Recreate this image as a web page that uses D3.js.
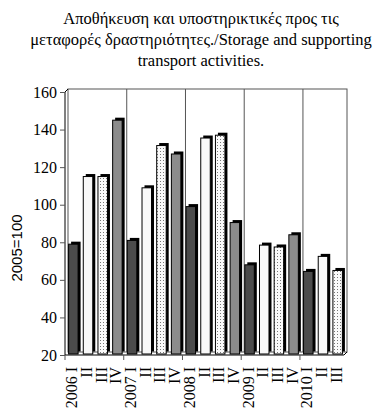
<!DOCTYPE html>
<html lang="el">
<head>
<meta charset="UTF-8">
<title>Storage and supporting transport activities</title>
<script src="https://d3js.org/d3.v7.min.js"></script>
<style>
  body { margin: 0; background: #fff; }
  svg { display: block; }
</style>
</head>
<body>
<svg id="chart" width="373" height="420"></svg>
<script>
// index 2005=100, quarterly
const years = ["2006", "2007", "2008", "2009", "2010"];
const quarters = ["I", "II", "III", "IV"];
const quarterCount = [4, 4, 4, 4, 3];
const values = [79, 115, 115, 145, 81, 109, 131.5, 127, 99, 135.5, 137, 90.5,
                68, 78.5, 77.5, 84, 64.5, 72.5, 65];
const yTicks = [20, 40, 60, 80, 100, 120, 140, 160];
const titleLines = [
  "Αποθήκευση και υποστηρικτικές προς τις",
  "μεταφορές δραστηριότητες./Storage and supporting",
  "transport activities."
];

// build category list
let cats = [];
years.forEach((yr, i) => {
  for (let q = 0; q < quarterCount[i]; q++) {
    cats.push({ key: yr + "-" + quarters[q], year: yr, q: q, label: q === 0 ? yr + " " + quarters[q] : quarters[q] });
  }
});
cats.forEach((c, i) => c.value = values[i]);

const svg = d3.select("#chart");
const depth = 3;
const x = d3.scaleBand().domain(cats.map(c => c.key)).range([65, 344]);
const xBack = d3.scaleBand().domain(cats.map(c => c.key)).range([65 + depth, 344 + depth]);
const y = d3.scaleLinear().domain([20, 160]).range([355, 92]);

// fill for each quarter
const defs = svg.append("defs");
const pat = defs.append("pattern").attr("id", "dots")
  .attr("width", 3).attr("height", 3).attr("patternUnits", "userSpaceOnUse");
pat.append("rect").attr("width", 3).attr("height", 3).attr("fill", "#fafafa");
pat.append("rect").attr("x", 1).attr("y", 1).attr("width", 1).attr("height", 1).attr("fill", "#777");
const fills = ["#4b4b4b", "#f8f8f8", "url(#dots)", "#8c8c8c"];

// title
svg.append("g").selectAll("text").data(titleLines).enter().append("text")
  .attr("x", 201).attr("y", (d, i) => 24 + i * 21)
  .attr("text-anchor", "middle")
  .style("font-family", "'Liberation Serif', 'Times New Roman', serif")
  .style("font-size", "16.5px")
  .text(d => d);

// back wall
const wallTop = y(160) - depth, wallBottom = y(20) - depth;
svg.append("rect")
  .attr("x", xBack.range()[0]).attr("y", wallTop)
  .attr("width", xBack.range()[1] - xBack.range()[0]).attr("height", wallBottom - wallTop)
  .attr("fill", "none").attr("stroke", "#555").attr("stroke-width", 1);

// year separators on back wall
const yearStarts = cats.filter(c => c.q === 0 && c.year !== years[0]);
svg.append("g").selectAll("line").data(yearStarts).enter().append("line")
  .attr("x1", d => xBack(d.key)).attr("x2", d => xBack(d.key))
  .attr("y1", wallTop).attr("y2", wallBottom)
  .attr("stroke", "#555").attr("stroke-width", 1);

// bars: black depth block + front face
const bw = 9.5;
const bars = svg.append("g").selectAll("g").data(cats).enter().append("g");
bars.append("rect")
  .attr("x", d => x(d.key) + x.bandwidth() / 2 - bw / 2 + 1 + 2.5)
  .attr("y", d => y(d.value) - 2.5)
  .attr("width", bw).attr("height", d => y(20) - 1 - y(d.value))
  .attr("fill", "#000");
bars.append("rect")
  .attr("x", d => x(d.key) + x.bandwidth() / 2 - bw / 2 + 1)
  .attr("y", d => y(d.value))
  .attr("width", bw).attr("height", d => y(20) - 1 - y(d.value))
  .attr("fill", d => fills[d.q])
  .attr("stroke", "#000").attr("stroke-width", 1);

// front axes
svg.append("line").attr("x1", 65).attr("x2", 65).attr("y1", y(160)).attr("y2", y(20))
  .attr("stroke", "#000");
svg.append("line").attr("x1", 65).attr("x2", 344).attr("y1", y(20)).attr("y2", y(20))
  .attr("stroke", "#000");
svg.append("line").attr("x1", 65).attr("x2", 65 + depth).attr("y1", y(160)).attr("y2", wallTop)
  .attr("stroke", "#000");
svg.append("line").attr("x1", 344).attr("x2", 344 + depth).attr("y1", y(20)).attr("y2", wallBottom)
  .attr("stroke", "#000");

const yAxis = d3.axisLeft(y).tickValues(yTicks).tickSize(5).tickPadding(3);
const yG = svg.append("g").attr("transform", "translate(65,0)").call(yAxis);
yG.select(".domain").remove();
yG.selectAll("line").attr("stroke", "#555");
yG.selectAll("text")
  .style("font-family", "'Liberation Serif', 'Times New Roman', serif")
  .style("font-size", "16px").attr("fill", "#000");

// year ticks on x axis
const tickCats = cats.filter(c => c.q === 0);
svg.append("g").selectAll("line").data(tickCats).enter().append("line")
  .attr("x1", d => x(d.key)).attr("x2", d => x(d.key))
  .attr("y1", y(20)).attr("y2", y(20) + 5)
  .attr("stroke", "#555");

// x labels, rotated
svg.append("g").selectAll("text").data(cats).enter().append("text")
  .attr("transform", d => "translate(" + (x(d.key) + x.bandwidth() / 2 + 5) + "," + (y(20) + 12) + ") rotate(-90)")
  .attr("text-anchor", "end")
  .style("font-family", "'Liberation Serif', 'Times New Roman', serif")
  .style("font-size", "16px")
  .text(d => d.label);

// y axis title
svg.append("text")
  .attr("transform", "translate(22,248) rotate(-90)")
  .attr("text-anchor", "middle")
  .style("font-family", "'Liberation Sans', Arial, sans-serif")
  .style("font-size", "15px")
  .text("2005=100");
</script>
</body>
</html>
